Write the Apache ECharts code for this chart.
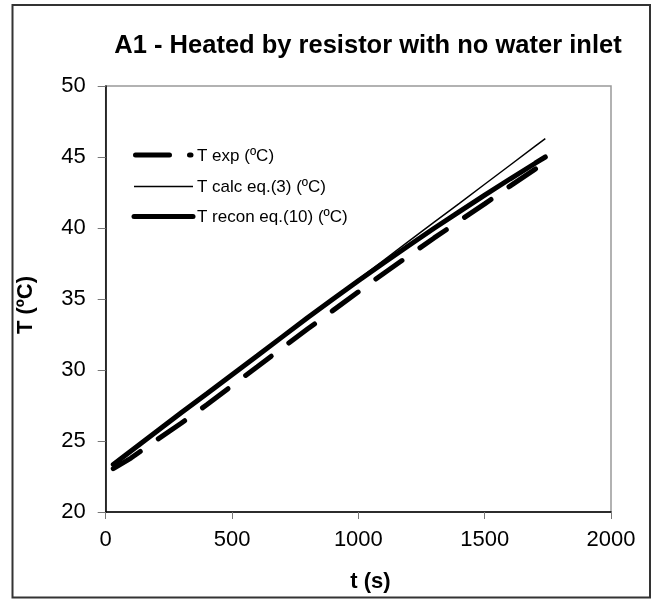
<!DOCTYPE html>
<html>
<head>
<meta charset="utf-8">
<script src="https://cdn.jsdelivr.net/npm/echarts@6/dist/echarts.min.js"></script>
<style>html,body{margin:0;padding:0;background:#fff}#c{width:652px;height:599px}</style>
</head>
<body>
<div id="c"></div>
<script>
const times = [30, 100, 200, 300, 400, 500, 600, 700, 800, 900, 1000, 1100, 1200, 1300, 1400, 1500, 1600, 1700, 1740];
const tExp = [23.05, 23.8, 25.05, 26.27, 27.55, 28.9, 30.23, 31.57, 32.9, 34.2, 35.5, 36.8, 38.05, 39.3, 40.5, 41.7, 42.95, 44.15, 44.6];
const tCalc = [23.4, 24.34, 25.68, 27.02, 28.35, 29.69, 31.03, 32.37, 33.71, 35.05, 36.39, 37.73, 39.07, 40.41, 41.74, 43.08, 44.42, 45.76, 46.3];
const tRecon = [23.35, 24.3, 25.65, 27.0, 28.33, 29.67, 31.0, 32.35, 33.7, 35.0, 36.28, 37.54, 38.77, 39.98, 41.15, 42.31, 43.45, 44.56, 45.0];
const seriesNames = ['T exp (ºC)', 'T calc eq.(3) (ºC)', 'T recon eq.(10) (ºC)'];
const titleText = 'A1 - Heated by resistor with no water inlet';
const xName = 't (s)';
const yName = 'T (ºC)';

const pair = arr => times.map((t, i) => [t, arr[i]]);
const font = 'Liberation Sans, Arial, sans-serif';
const lineStyles = [
  {stroke: '#000', lineWidth: 5, lineDash: [34, 20], lineCap: 'round'},
  {stroke: '#000', lineWidth: 1.5},
  {stroke: '#000', lineWidth: 5, lineCap: 'round'}
];
const legendY = [155, 186.5, 216.5];
const legendGraphics = [];
seriesNames.forEach((n, i) => {
  legendGraphics.push({
    type: 'line', silent: true,
    shape: {x1: i === 0 ? 135.5 : 134, y1: legendY[i], x2: i === 0 ? 191 : 193, y2: legendY[i]},
    style: lineStyles[i]
  });
  legendGraphics.push({
    type: 'text', silent: true, x: 197, y: legendY[i] + 1,
    style: {text: n, fill: '#000', font: '17px ' + font, textVerticalAlign: 'middle', textAlign: 'left'}
  });
});

const chart = echarts.init(document.getElementById('c'));
chart.setOption({
  animation: false,
  backgroundColor: '#fff',
  title: {
    text: titleText, left: 363, top: 28, textAlign: 'center',
    textStyle: {fontFamily: font, fontSize: 25.5, fontWeight: 'bold', color: '#000'}
  },
  graphic: [{
    type: 'rect', shape: {x: 12.5, y: 5, width: 637.5, height: 592.5},
    style: {fill: 'none', stroke: '#333', lineWidth: 2}, silent: true
  }].concat(legendGraphics),
  grid: {left: 105.7, right: 41, top: 86, bottom: 87, show: true, borderColor: '#999', borderWidth: 1.5, backgroundColor: 'transparent'},
  xAxis: {
    type: 'value', min: 0, max: 2000, interval: 500,
    name: xName, nameLocation: 'middle', nameGap: 59,
    nameTextStyle: {fontFamily: font, fontSize: 22, fontWeight: 'bold', color: '#000', padding: [0, 0, 0, 24]},
    axisLine: {show: true, onZero: false, lineStyle: {color: '#000', width: 1.5}},
    axisTick: {show: true, length: 7, lineStyle: {color: '#777'}},
    axisLabel: {fontFamily: font, fontSize: 22, color: '#000', margin: 17, formatter: v => String(v)},
    splitLine: {show: false}
  },
  yAxis: {
    type: 'value', min: 20, max: 50, interval: 5,
    name: yName, nameLocation: 'middle', nameGap: 69, nameRotate: 90,
    nameTextStyle: {fontFamily: font, fontSize: 22, fontWeight: 'bold', color: '#000', padding: [0, 12, 0, 0]},
    axisLine: {show: true, onZero: false, lineStyle: {color: '#000', width: 1.5}},
    axisTick: {show: true, length: 8, lineStyle: {color: '#777'}},
    axisLabel: {fontFamily: font, fontSize: 22, color: '#000', margin: 20, formatter: v => String(v)},
    splitLine: {show: false}
  },
  series: [
    {name: seriesNames[0], type: 'line', data: pair(tExp), symbol: 'none', z: 3,
     lineStyle: {color: '#000', width: 5, type: [32, 22], cap: 'round'}, itemStyle: {color: '#000'}},
    {name: seriesNames[1], type: 'line', data: pair(tCalc), symbol: 'none', z: 4,
     lineStyle: {color: '#000', width: 1.5}, itemStyle: {color: '#000'}},
    {name: seriesNames[2], type: 'line', data: pair(tRecon), symbol: 'none', z: 2,
     lineStyle: {color: '#000', width: 5, cap: 'round'}, itemStyle: {color: '#000'}}
  ]
});
</script>
</body>
</html>
